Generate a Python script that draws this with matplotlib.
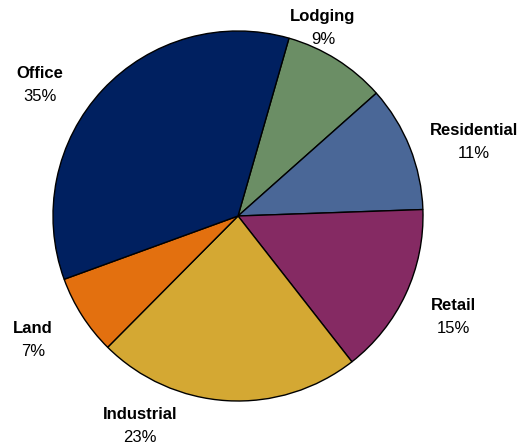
import matplotlib
matplotlib.use("Agg")
import matplotlib.pyplot as plt

plt.rcParams["font.family"] = ["Liberation Sans", "DejaVu Sans"]

# slices, clockwise from the top
categories = ["Lodging", "Residential", "Retail", "Industrial", "Land", "Office"]
shares = [9, 11, 15, 23, 7, 35]
colors = ["#6b8e65", "#4a6797", "#852a63", "#d4a833", "#e3700f", "#002060"]

# label block centres (in pie radii)
label_pos = [
    (0.459, 1.016),
    (1.276, 0.400),
    (1.162, -0.546),
    (-0.530, -1.135),
    (-1.108, -0.670),
    (-1.070, 0.708),
]

R = 185.0  # pixel radius
CX, CY = 238.0, 216.0
W, H = 523, 447

fig = plt.figure(figsize=(W / 100, H / 100), dpi=100)
ax = fig.add_axes([0, 0, 1, 1])
ax.set_xlim(-CX / R, (W - CX) / R)
ax.set_ylim((CY - H) / R, CY / R)
ax.set_aspect("equal")
ax.axis("off")

ax.pie(
    shares,
    colors=colors,
    startangle=74,
    counterclock=False,
    radius=1.0,
    center=(0, 0),
    frame=True,
    wedgeprops=dict(edgecolor="black", linewidth=1.0),
)
ax.set_xlim(-CX / R, (W - CX) / R)
ax.set_ylim((CY - H) / R, CY / R)
ax.axis("off")

dy = 11.5 / R
for name, val, (x, y) in zip(categories, shares, label_pos):
    ax.text(x, y + dy, name, ha="center", va="center", fontsize=12,
            fontweight="bold", color="black")
    ax.text(x, y - dy, f"{val}%", ha="center", va="center", fontsize=12,
            color="black")

fig.savefig("out.png", dpi=100)
